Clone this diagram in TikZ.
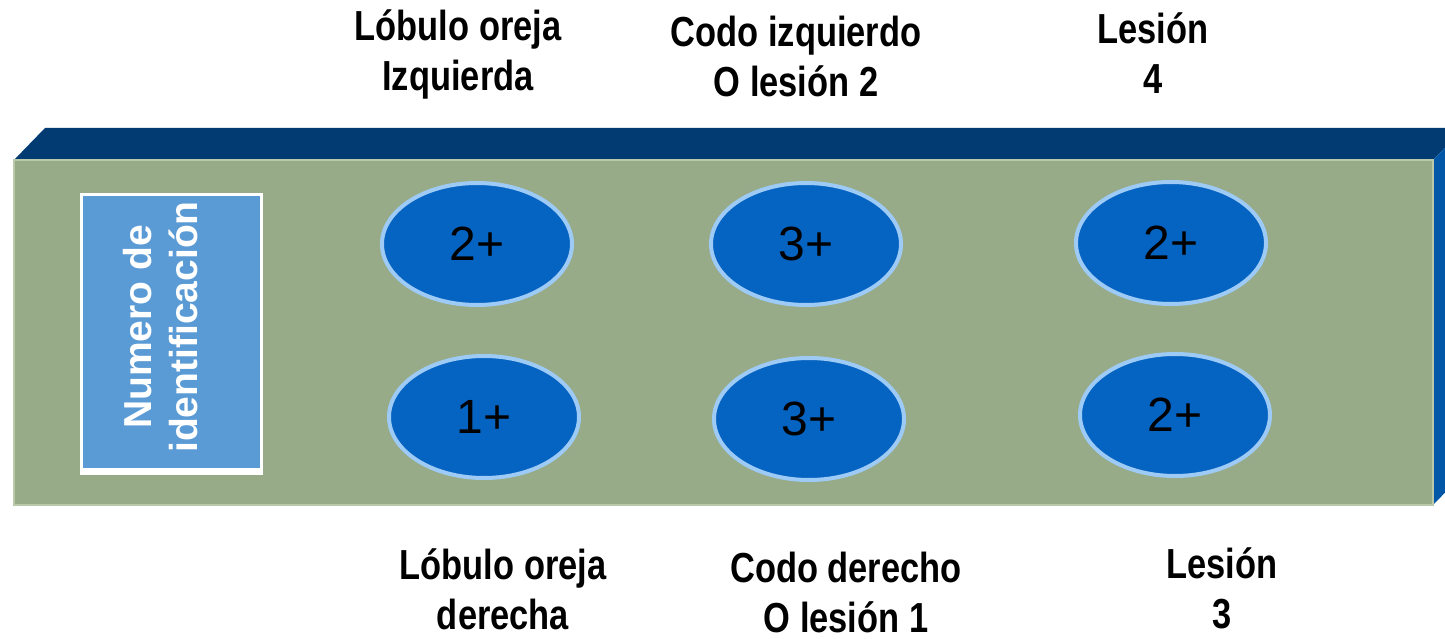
\documentclass[tikz,border=0pt]{standalone}
\usepackage{fontspec}
\setmainfont{Liberation Sans}
\newfontfamily\narrowfont[FakeStretch=0.82]{Liberation Sans}
\usetikzlibrary{shapes.geometric}
\definecolor{slabfront}{HTML}{97AB88}
\definecolor{slabedge}{HTML}{B9C9A9}
\definecolor{slabtop}{HTML}{013B72}
\definecolor{slabside}{HTML}{0257A6}
\definecolor{idblue}{HTML}{5B9BD5}
\definecolor{spotfill}{HTML}{0563C1}
\definecolor{spotrim}{HTML}{9ECBF5}
\tikzset{
  spot/.style={ellipse, draw=spotrim, fill=spotfill, line width=4pt, minimum width=190pt, minimum height=122pt, inner sep=0pt, font=\fontsize{48}{56}\selectfont},
  site/.style={align=center, inner sep=0pt, font=\narrowfont\bfseries\fontsize{42}{50}\selectfont}
}
\begin{document}
\begin{tikzpicture}[x=1pt, y=-1pt]
  \useasboundingbox (0,0) rectangle (1445,639);
  \clip (0,0) rectangle (1445,639);

  \fill[slabtop] (14,160) -- (45,128) -- (1464,128) -- (1433,160) -- cycle;
  \fill[slabside] (1433,160) -- (1464,128) -- (1464,473) -- (1433,505) -- cycle;
  \filldraw[fill=slabfront, draw=slabedge, line width=1.5pt] (14,160) rectangle (1433,505);

  \fill[white] (80,193) rectangle (263,475);
  \fill[idblue] (83,196) rectangle (260,468);
  \node[rotate=90, align=center, inner sep=0pt, text=white, font=\bfseries\fontsize{39}{46}\selectfont] (idtext) at (161,327) {Numero de\\identificación};

  \node[spot] (earleft) at (477,244) {2+};
  \node[spot] (elbowleft) at (806,244) {3+};
  \node[spot] (lesionfour) at (1171,243) {2+};
  \node[spot] (earright) at (484,417) {1+};
  \node[spot] (elbowright) at (809,419) {3+};
  \node[spot] (lesionthree) at (1175,415) {2+};

  \node[site] (earlefttxt) at (458,54) {Lóbulo oreja\\Izquierda};
  \node[site] (elbowlefttxt) at (796,56) {Codo izquierdo\\O lesión 2};
  \node[site] (lesionfourtxt) at (1153,53) {Lesión\\4};
  \node[site] (earrighttxt) at (503,589) {Lóbulo oreja\\derecha};
  \node[site] (elbowrighttxt) at (846,592) {Codo derecho\\O lesión 1};
  \node[site] (lesionthreetxt) at (1222,588) {Lesión\\3};
\end{tikzpicture}
\end{document}
